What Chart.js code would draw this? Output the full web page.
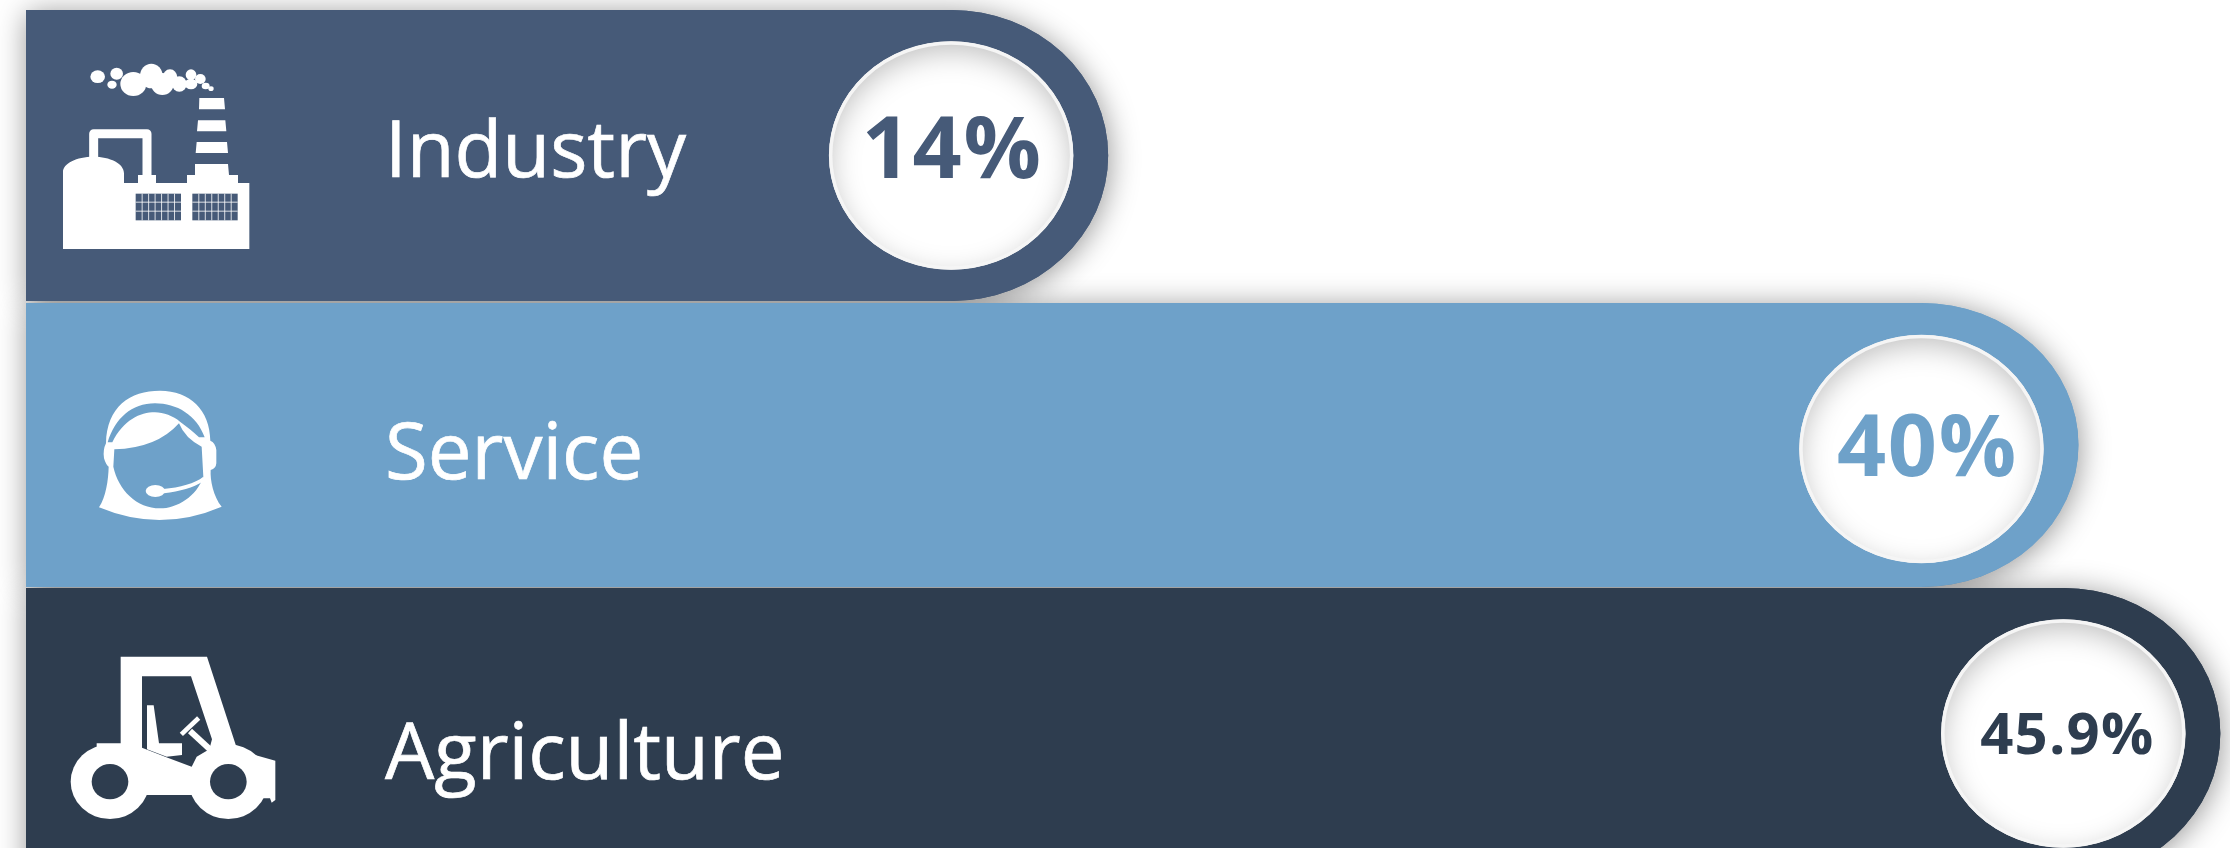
<!DOCTYPE html>
<html>
<head>
<meta charset="utf-8">
<style>
html,body{margin:0;padding:0;background:#fff;width:2230px;height:848px;overflow:hidden}
canvas{display:block}
</style>
<script src="https://cdn.jsdelivr.net/npm/chart.js@4/dist/chart.umd.min.js"></script>
</head>
<body>
<canvas id="c" width="2230" height="879"></canvas>
<script>
const categories = ['Industry', 'Service', 'Agriculture'];
const shares = [14, 40, 45.9];
const barColors = ['#465a78', '#6ea1c9', '#2e3d4f'];

// styling of each row (offsets relative to the band and bar end the scales give the row)
const rowStyle = [
  {trimTop: 0,    trimBottom: 1.3,  tipTrim: 6.5,  badgeDy: 0, labelDy: 21.5, valueDx: 1, valueDy: 23, valueSize: 86},
  {trimTop: 3.3,  trimBottom: -2.3, tipTrim: -6.5, badgeDy: 4, labelDy: 34,   valueDx: 6, valueDy: 27, valueSize: 86},
  {trimTop: -1.3, trimBottom: 0,    tipTrim: 6.5,  badgeDy: 0, labelDy: 45,   valueDx: 4, valueDy: 20, valueSize: 58}
];
const capRx = 157, badgeRx = 122, badgeRy = 114;

function icon(ctx, ox, oy, fn) {
  ctx.save(); ctx.translate(ox, oy); ctx.scale(1/3, 1/3); ctx.fillStyle = '#fff'; ctx.strokeStyle = '#fff';
  fn(ctx); ctx.restore();
}
function drawFactory(ctx, bg) {
  ctx.fill(new Path2D('M189,747 L189,516 C189,490 230,470 280,470 C330,470 372,490 372,520 L372,549 L414,549 L414,525 L468,525 L468,549 L561,549 L561,525 L585,525 L585,492 L684,492 L687,525 L714,525 L714,549 L748,549 L748,747 Z'));
  ctx.lineWidth = 27; ctx.lineJoin = 'round'; ctx.beginPath();
  ctx.moveTo(281,480); ctx.lineTo(281,401); ctx.lineTo(441,401); ctx.lineTo(441,530); ctx.stroke();
  ctx.fill(new Path2D('M598,294 L672,294 L675,328 L597,328 Z M594,361 L676,361 L679,394 L591,394 Z M590,426 L681,426 L684,459 L587,459 Z'));
  [[293,230,22,19],[350,221,19,18],[336,254,14,12],[400,252,39,36],[454,228,34,37],[487,252,34,33],[510,232,22,24],[538,252,22,23],[573,224,16,16],[573,252,19,16],[601,237,16,15],[617,258,12,10],[633,266,8,7]].forEach(e => {
    ctx.beginPath(); ctx.ellipse(e[0], e[1], e[2], e[3], 0, 0, 7); ctx.fill();
  });
  [[407,543],[577,713]].forEach(w => {
    ctx.fillStyle = bg; ctx.fillRect(w[0], 581, w[1]-w[0], 80);
    ctx.fillStyle = 'rgba(255,255,255,.8)';
    for (let i = 1; i < 7; i++) ctx.fillRect(w[0] + i*(w[1]-w[0])/7 - 1.5, 581, 3, 80);
    ctx.fillRect(w[0], 605, w[1]-w[0], 3); ctx.fillRect(w[0], 632, w[1]-w[0], 3);
  });
}
function drawHeadset(ctx) {
  const p = 'M297,652 Q480,729 665,650 C640,620 630,570 632,540 Q648,535 649,520 L649,480 Q646,458 631,452 C630,360 570,302 480,302 C390,302 320,350 318,460 Q308,480 312,505 Q318,525 326,530 C325,570 318,620 297,652 Z ' +
    'M343,478 Q470,475 537,400 Q555,445 605,470 L610,560 C590,620 530,655 480,655 C410,655 355,600 340,530 Z ' +
    'M323,457 C345,385 395,340 465,340 C530,340 590,375 614,442 L597,442 C580,425 560,410 540,395 C520,378 490,367 465,367 C420,367 370,390 337,457 Z';
  ctx.fill(new Path2D(p), 'evenodd');
  ctx.beginPath(); ctx.ellipse(466,603,29,18,0,0,7); ctx.fill();
  ctx.fill(new Path2D('M490,597 C540,592 585,580 610,560 L608,575 C580,592 540,604 492,610 Z'));
}
function drawTractor(ctx, bg) {
  ctx.fill(new Path2D('M362,230 L621,230 L708,497 L765,525 L826,542 L826,660 L815,668 L810,655 L780,655 L700,645 L362,645 L362,520 L290,520 L290,490 L362,490 Z'));
  [[330,605,118,112],[685,605,118,112]].forEach(e => { ctx.beginPath(); ctx.ellipse(e[0],e[1],e[2],e[3],0,0,7); ctx.fill(); });
  ctx.fillStyle = bg;
  ctx.fill(new Path2D('M426,289 L573,289 L636,478 L628,508 L590,530 L575,560 L503,533 L426,503 Z'));
  ctx.fillStyle = '#fff';
  ctx.fill(new Path2D('M441,376 L461,376 L477,490 L546,490 L546,525 L500,530 L441,508 Z'));
  ctx.lineWidth = 18; ctx.beginPath(); ctx.moveTo(570,453); ctx.lineTo(632,510); ctx.stroke();
  ctx.lineWidth = 14; ctx.beginPath(); ctx.moveTo(544,463); ctx.lineTo(596,414); ctx.stroke();
  ctx.fillStyle = bg;
  [[330,605,55,53],[685,605,55,53]].forEach(e => { ctx.beginPath(); ctx.ellipse(e[0],e[1],e[2],e[3],0,0,7); ctx.fill(); });
}

function barPath(ctx, r) {
  const tip = r.tip;
  ctx.beginPath();
  ctx.moveTo(r.left, r.top);
  ctx.lineTo(tip - capRx, r.top);
  ctx.ellipse(tip - capRx, r.mid, capRx, (r.bottom-r.top)/2, 0, -Math.PI/2, Math.PI/2);
  ctx.lineTo(r.left, r.bottom);
  ctx.closePath();
}

const infographicBars = {
  id: 'infographicBars',
  beforeDatasetDraw(chart, args) {
    const ctx = chart.ctx, els = args.meta.data;
    const rows = els.map((el, i) => {
      const s = rowStyle[i];
      const top = el.y - el.height/2 + s.trimTop, bottom = el.y + el.height/2 + s.trimBottom;
      return {el, s, top, bottom, left: el.base, tip: el.x + s.tipTrim, mid: (top+bottom)/2};
    });
    // soft shadows first, so that no bar darkens its neighbour
    rows.forEach((r, i) => {
      ctx.save();
      ctx.shadowColor = 'rgba(0,0,0,.42)'; ctx.shadowBlur = 30; ctx.shadowOffsetX = 1; ctx.shadowOffsetY = 3;
      ctx.fillStyle = barColors[i];
      barPath(ctx, r); ctx.fill();
      ctx.restore();
    });
    rows.forEach((r, i) => { ctx.fillStyle = barColors[i]; barPath(ctx, r); ctx.fill(); });
    rows.forEach((r, i) => {
      const cx = r.tip - capRx, cy = r.mid + r.s.badgeDy;
      ctx.save();
      ctx.beginPath(); ctx.ellipse(cx, cy, badgeRx, badgeRy, 0, 0, 7);
      ctx.fillStyle = '#fff'; ctx.fill();
      ctx.save(); ctx.clip();
      ctx.shadowColor = 'rgba(0,0,0,.26)'; ctx.shadowBlur = 30; ctx.shadowOffsetY = 9;
      ctx.beginPath(); ctx.rect(cx-400, cy-400, 800, 800);
      ctx.ellipse(cx, cy, badgeRx, badgeRy, 0, 0, 7);
      ctx.fillStyle = '#fff'; ctx.fill('evenodd');
      ctx.restore();
      ctx.beginPath(); ctx.ellipse(cx, cy, badgeRx-1.5, badgeRy-1.5, 0, 0, 7);
      ctx.lineWidth = 3.5; ctx.strokeStyle = '#f5f5f5'; ctx.stroke();
      ctx.fillStyle = barColors[i];
      ctx.font = `700 ${r.s.valueSize}px "Open Sans"`;
      ctx.letterSpacing = (r.s.valueSize * 0.02) + 'px';
      ctx.textAlign = 'center'; ctx.textBaseline = 'alphabetic';
      ctx.fillText(shares[i] + '%', cx + r.s.valueDx, cy + r.s.valueDy);
      ctx.letterSpacing = '0px';
      ctx.fillStyle = '#fff'; ctx.strokeStyle = '#fff'; ctx.lineWidth = 0.7;
      ctx.font = '400 78px "Open Sans"';
      ctx.textAlign = 'left';
      ctx.fillText(categories[i], 385, r.mid + r.s.labelDy);
      ctx.strokeText(categories[i], 385, r.mid + r.s.labelDy);
      ctx.restore();
    });
    icon(ctx, 0, 0, c => drawFactory(c, barColors[0]));
    icon(ctx, 0, 290, drawHeadset);
    icon(ctx, 0, 580, c => drawTractor(c, barColors[2]));
    return false;
  }
};

new Chart(document.getElementById('c'), {
  type: 'bar',
  data: {
    labels: categories,
    datasets: [{data: shares, backgroundColor: barColors, barPercentage: 1, categoryPercentage: 1, borderWidth: 0}]
  },
  plugins: [infographicBars],
  options: {
    indexAxis: 'y',
    responsive: false,
    animation: false,
    events: [],
    layout: {padding: {left: 26, top: 10, right: 0, bottom: 0}},
    plugins: {legend: {display: false}, tooltip: {enabled: false}},
    scales: {
      x: {type: 'logarithmic', min: 4.44, max: 46.7, display: false},
      y: {type: 'category', display: false}
    }
  }
});
</script>
</body>
</html>
